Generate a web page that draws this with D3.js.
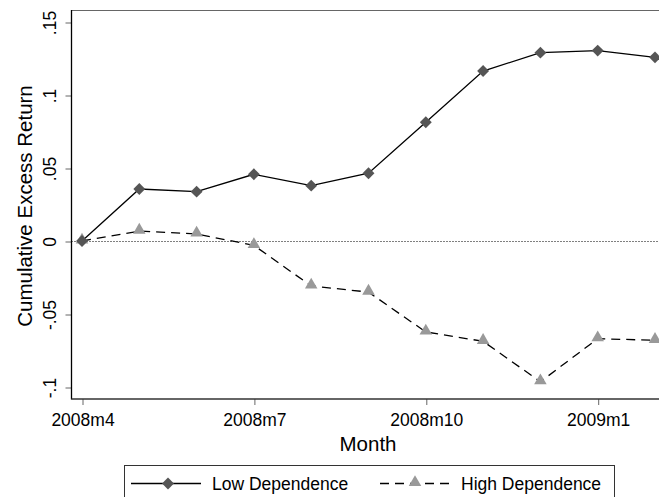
<!DOCTYPE html>
<html><head><meta charset="utf-8">
<script src="https://cdn.jsdelivr.net/npm/d3@7"></script>
<style>body{margin:0;background:#fff}svg{display:block}text{font-family:"Liberation Sans",Arial,sans-serif}</style>
</head><body>
<svg id="c" width="659" height="497"></svg>
<script>
const months = ["2008m4","2008m5","2008m6","2008m7","2008m8","2008m9","2008m10","2008m11","2008m12","2009m1","2009m2"];
const lowDependence = [0, 0.0356, 0.0338, 0.0457, 0.0379, 0.0464, 0.0813, 0.1164, 0.129, 0.1304, 0.1258];
const highDependence = [0, 0.0068, 0.0048, -0.003, -0.0308, -0.035, -0.0623, -0.0687, -0.0964, -0.0669, -0.068];
const xTicks = ["2008m4","2008m7","2008m10","2009m1"];
const yTicks = [-0.1, -0.05, 0, 0.05, 0.1, 0.15];
const yTickLabels = ["-.1", "-.05", "0", ".05", ".1", ".15"];

const svg = d3.select("#c");
const L = 71.5, T = 10, B = 399, R = 700;
const x = d3.scalePoint().domain(months).range([82, 655]);
const y = d3.scaleLinear().domain([-0.1, 0.15]).range([387, 22]);

// top plot-region border
svg.append("line").attr("x1", L).attr("x2", R).attr("y1", T + 0.5).attr("y2", T + 0.5)
  .attr("stroke", "#666").attr("stroke-width", 1);

// y axis
const yAxis = d3.axisLeft(y).tickValues(yTicks).tickSize(6)
  .tickFormat((d, i) => yTickLabels[i]);
const gy = svg.append("g").attr("transform", `translate(${L},0.5)`).call(yAxis);
gy.attr("font-family", null).attr("font-size", null);
gy.select(".domain").remove();
gy.selectAll(".tick line").attr("stroke", "#666");
gy.selectAll(".tick text").attr("font-size", 17.5).attr("fill", "#000")
  .attr("transform", "rotate(-90)").attr("text-anchor", "middle")
  .attr("x", 0).attr("y", -15.5).attr("dy", "0");
svg.append("line").attr("x1", L).attr("x2", L).attr("y1", T).attr("y2", B + 0.5)
  .attr("stroke", "#000").attr("stroke-width", 1.3);

// x axis
const xAxis = d3.axisBottom(x).tickValues(xTicks).tickSize(6);
const gx = svg.append("g").attr("transform", `translate(0.5,${B})`).call(xAxis);
gx.attr("font-family", null).attr("font-size", null);
gx.select(".domain").remove();
gx.selectAll(".tick line").attr("stroke", "#666");
gx.selectAll(".tick text").attr("font-size", 17.5).attr("fill", "#000")
  .attr("y", 26.5).attr("dy", "0");
svg.append("line").attr("x1", L).attr("x2", R).attr("y1", B).attr("y2", B)
  .attr("stroke", "#333").attr("stroke-width", 1.3);

// titles
svg.append("text").attr("x", 368).attr("y", 451).attr("text-anchor", "middle")
  .attr("font-size", 20.5).text("Month");
svg.append("text").attr("transform", `translate(32,206) rotate(-90)`)
  .attr("text-anchor", "middle").attr("font-size", 20.5).text("Cumulative Excess Return");

// zero reference line
svg.append("line").attr("x1", L).attr("x2", R).attr("y1", y(0) + 0.5).attr("y2", y(0) + 0.5)
  .attr("stroke", "#000").attr("stroke-width", 1).attr("stroke-dasharray", "1,2");

const line = d3.line().x((d, i) => x(months[i])).y(d => y(d));
svg.append("path").datum(highDependence).attr("d", line).attr("fill", "none")
  .attr("stroke", "#000").attr("stroke-width", 1.3).attr("stroke-dasharray", "9,6");
svg.append("path").datum(lowDependence).attr("d", line).attr("fill", "none")
  .attr("stroke", "#000").attr("stroke-width", 1.3);

const diamond = d3.symbol().type(d3.symbolDiamond2).size(90);
const tri = d3.symbol().type(d3.symbolTriangle).size(68);
svg.selectAll(".tri").data(highDependence).join("path").attr("class", "tri")
  .attr("d", tri).attr("fill", "#999")
  .attr("transform", (d, i) => `translate(${x(months[i])},${y(d) - 1})`);
svg.selectAll(".dia").data(lowDependence).join("path").attr("class", "dia")
  .attr("d", diamond).attr("fill", "#555")
  .attr("transform", (d, i) => `translate(${x(months[i])},${y(d)})`);

// legend
const lg = svg.append("g");
lg.append("rect").attr("x", 124.5).attr("y", 465.5).attr("width", 490).attr("height", 40)
  .attr("fill", "#fff").attr("stroke", "#333").attr("stroke-width", 1);
const ly = 483.5;
lg.append("line").attr("x1", 131).attr("x2", 201).attr("y1", ly).attr("y2", ly)
  .attr("stroke", "#000").attr("stroke-width", 1.3);
lg.append("path").attr("d", diamond).attr("fill", "#555").attr("transform", `translate(168,${ly})`);
lg.append("text").attr("x", 212).attr("y", 490).attr("font-size", 17.5).text("Low Dependence");
lg.append("line").attr("x1", 380).attr("x2", 450).attr("y1", ly).attr("y2", ly)
  .attr("stroke", "#000").attr("stroke-width", 1.3).attr("stroke-dasharray", "9,6");
lg.append("path").attr("d", tri).attr("fill", "#999").attr("transform", `translate(415,${ly - 1})`);
lg.append("text").attr("x", 461).attr("y", 490).attr("font-size", 17.5).text("High Dependence");
</script>
</body></html>
